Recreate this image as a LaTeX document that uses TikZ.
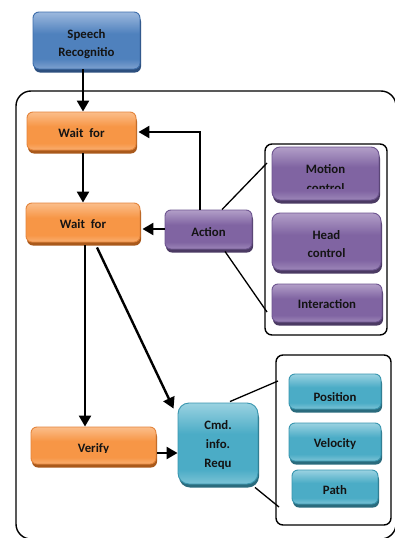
\documentclass[tikz,border=0pt]{standalone}
\usepackage{fontspec}
\setmainfont{Carlito}
\usetikzlibrary{shadows,arrows.meta,calc}
\definecolor{bBase}{HTML}{4F81BD}\definecolor{bLight}{HTML}{9DB9DE}\definecolor{bBot}{HTML}{7FA1CF}\definecolor{bBorder}{HTML}{3E6EAB}\definecolor{bDark}{HTML}{2C4F7E}
\definecolor{oBase}{HTML}{F79646}\definecolor{oLight}{HTML}{FBBE8B}\definecolor{oBot}{HTML}{F9AE70}\definecolor{oBorder}{HTML}{E4853C}\definecolor{oDark}{HTML}{A9591B}
\definecolor{pBase}{HTML}{8064A2}\definecolor{pLight}{HTML}{B29FC8}\definecolor{pBot}{HTML}{9C86B8}\definecolor{pBorder}{HTML}{6E5590}\definecolor{pDark}{HTML}{4B3A63}
\definecolor{tBase}{HTML}{4BACC6}\definecolor{tLight}{HTML}{9AD2E1}\definecolor{tBot}{HTML}{7CC3D6}\definecolor{tBorder}{HTML}{3996AF}\definecolor{tDark}{HTML}{2A6B7D}
\definecolor{txt}{HTML}{141414}
\newcommand\mkgloss[4]{\pgfdeclareverticalshading{#1}{100bp}{color(0bp)=(#4); color(25bp)=(#4); color(34bp)=(#2); color(56bp)=(#2); color(75bp)=(#3); color(100bp)=(#3)}}
\mkgloss{glossB}{bBase}{bLight}{bBot}
\mkgloss{glossO}{oBase}{oLight}{oBot}
\mkgloss{glossP}{pBase}{pLight}{pBot}
\mkgloss{glossT}{tBase}{tLight}{tBot}
\tikzset{
  box/.style={rounded corners=6pt, line width=0.9pt, inner sep=0pt, anchor=center},
  bluebox/.style={box, draw=bBorder, shading=glossB,
    drop shadow={shadow xshift=1pt, shadow yshift=-3.5pt, fill=bDark, opacity=1}},
  orangebox/.style={box, draw=oBorder, shading=glossO,
    drop shadow={shadow xshift=1pt, shadow yshift=-3.5pt, fill=oDark, opacity=1}},
  purplebox/.style={box, draw=pBorder, shading=glossP,
    drop shadow={shadow xshift=1pt, shadow yshift=-3.5pt, fill=pDark, opacity=1}},
  tealbox/.style={box, draw=tBorder, shading=glossT,
    drop shadow={shadow xshift=1pt, shadow yshift=-3.5pt, fill=tDark, opacity=1}},
  lbl/.style={anchor=base, inner sep=0pt, text=txt, font=\fontsize{12.8}{15}\selectfont\bfseries},
  frame/.style={draw=black, line width=1.4pt, rounded corners=7pt, inner sep=0pt},
  arr/.style={line width=2.4pt, -{Triangle[length=11pt,width=12pt]}},
  fan/.style={line width=1.3pt},
}
\begin{document}
\begin{tikzpicture}[x=1pt,y=-1pt]
\useasboundingbox (0,0) rectangle (395,538);
\clip (0,0) rectangle (395,538);
\fill[white] (0,0) rectangle (395,538);
% big frame
\draw[line width=1.4pt, rounded corners=15pt] (16,91) rectangle (396,539);
% sub frames
\node[frame, minimum width=122pt, minimum height=191pt] (f1) at (326,239.5) {};
\node[frame, minimum width=115pt, minimum height=170pt] (f2) at (333.5,440) {};
% boxes
\node[bluebox, minimum width=107pt, minimum height=57pt] (sr) at (86.5,40.5) {};
\node[orangebox, minimum width=109pt, minimum height=38pt] (w1) at (81.5,131) {};
\node[orangebox, minimum width=114pt, minimum height=39pt] (w2) at (83,222.5) {};
\node[purplebox, minimum width=87pt, minimum height=39pt] (ac) at (208.5,229.5) {};
\node[orangebox, minimum width=125pt, minimum height=37pt] (ve) at (93.5,445.5) {};
\node[tealbox, rounded corners=11pt, minimum width=80pt, minimum height=81pt] (cm) at (218,443.5) {};
\node[purplebox, rounded corners=8pt, minimum width=107pt, minimum height=53pt] (mo) at (325.5,173.5) {};
\node[purplebox, rounded corners=8pt, minimum width=109pt, minimum height=57pt] (he) at (326.5,241.5) {};
\node[purplebox, minimum width=110pt, minimum height=38pt] (in) at (327,303) {};
\node[tealbox, minimum width=92pt, minimum height=35pt] (po) at (335,391.5) {};
\node[tealbox, minimum width=92pt, minimum height=38pt] (vel) at (335,442) {};
\node[tealbox, minimum width=86pt, minimum height=34pt] (pa) at (335,487) {};
% labels
\node[lbl] (sr1) at (86.5,38) {Speech};
\node[lbl] (sr2) at (86.5,56) {Recognitio};
\node[lbl] (w1t) at (81.5,137) {Wait\ \ for};
\node[lbl] (w2t) at (83,228) {Wait\ \ for};
\node[lbl] (act) at (208.5,236) {Action};
\begin{scope}
\clip (20,420) rectangle (170,452.5);
\node[lbl] (vet) at (93.5,452) {Verify};
\end{scope}
\begin{scope}
\clip (270,150) rectangle (385,188.5);
\node[lbl] (mo1) at (325.5,173) {Motion};
\node[lbl] (mo2) at (325.5,192) {control};
\end{scope}
\node[lbl] (he1) at (326.5,239) {Head};
\node[lbl] (he2) at (326.5,257) {control};
\node[lbl] (int) at (327,308) {Interaction};
\node[lbl] (cm1) at (218,429) {Cmd.};
\node[lbl] (cm2) at (218,448) {info.};
\node[lbl] (cm3) at (218,467) {Requ};
\begin{scope}
\clip (285,370) rectangle (385,400.5);
\node[lbl] (pot) at (335,401) {Position};
\end{scope}
\node[lbl] (vet2) at (335,447) {Velocity};
\begin{scope}
\clip (285,470) rectangle (385,493.5);
\node[lbl] (pat) at (335,494) {Path};
\end{scope}
% connectors
\coordinate (xa) at (83,0);
\coordinate (xb) at (85,0);
\coordinate (xc) at (200,0);
\coordinate (yc) at (0,132);
\coordinate (ya) at (0,229);
\coordinate (yv) at (0,453);
\draw[arr] (xa |- sr.south) -- (xa |- w1.north);
\draw[arr] ($(xa |- w1.south)+(0,3)$) -- (xa |- w2.north);
\draw[arr] ($(xb |- w2.south)+(0,3)$) -- (xb |- ve.north);
\draw[arr] ($(w2.south)+(14,5)$) -- ($(cm.north west)+(-4,6)$);
\draw[arr] ($(yv -| ve.east)+(1,0)$) -- (yv -| cm.west);
\draw[arr] (ya -| ac.west) -- ($(ya -| w2.east)+(2,0)$);
\draw[line width=1.3pt] (xc |- ac.north) -- (xc |- yc);
\draw[arr] ($(xc |- yc)+(0.65,0)$) -- ($(yc -| w1.east)+(2,0)$);
% fan lines
\coordinate (fa1) at (267,163);
\coordinate (fa2) at (267,312);
\coordinate (fb1) at (278,381);
\coordinate (fb2) at (279,507);
\draw[fan] ($(ac.north)+(13.5,0)$) -- (fa1);
\draw[fan] ($(ac.south)+(16.5,2)$) -- (fa2);
\draw[fan] ($(cm.north)+(12,-1)$) -- (fb1);
\draw[fan] ($(cm.south)+(37,3)$) -- (fb2);
\end{tikzpicture}
\end{document}
